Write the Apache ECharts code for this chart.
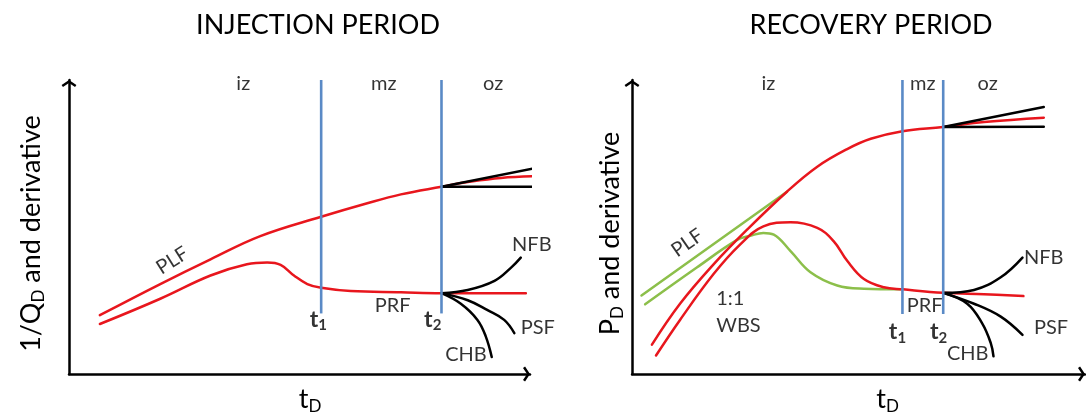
<!DOCTYPE html>
<html>
<head>
<meta charset="utf-8">
<script src="https://cdn.jsdelivr.net/npm/echarts@6/dist/echarts.min.js"></script>
<style>
  html, body { margin: 0; padding: 0; background: #fff; }
  #chart { width: 1086px; height: 420px; }
</style>
</head>
<body>
<div id="chart"></div>
<script>
// Schematic type curves: dimensionless time t_D on x (0-100), dimensionless response on y (0-100).

// ---- Injection period ----
const injPressure = [[6.7,20.0],[19.8,30.6],[30.7,39.0],[41.5,46.9],[54.7,53.5],[64.7,58.1],[72.0,61.1],[80.8,63.7],[86.5,65.3],[93.7,66.7],[102.4,67.3]];
const injDerivative = [[6.7,17.0],[19.8,25.6],[30.7,33.5],[38.6,37.3],[43.0,37.9],[45.9,37.1],[48.8,33.5],[51.7,30.6],[54.7,29.3],[61.1,28.2],[72.0,27.8],[80.8,27.5],[99.1,27.5]];
const injPressureRise = [[80.8,63.7],[102.4,70.4]];
const injPressureFlat = [[80.8,63.7],[102.4,63.7]];
const injNFB = [[80.8,27.5],[86.5,28.6],[92.3,31.7],[95.9,36.2],[98.0,39.6]];
const injPSF = [[80.8,27.5],[86.5,25.1],[90.8,21.7],[94.4,18.4],[96.6,13.9]];
const injCHB = [[80.8,27.5],[85.0,23.9],[88.6,18.4],[90.4,12.8],[91.7,5.8]];
const injZoneTimes = [54.7, 80.8];          // t1, t2
const injZoneSpan = [20.6, 100];

// ---- Recovery period ----
const recPressure = [[4.4,10.0],[10.6,23.9],[18.0,37.3],[25.4,49.1],[34.2,62.0],[40.9,70.5],[47.5,76.5],[52.7,80.0],[59.7,82.6],[68.7,84.0],[77.7,85.7],[90.9,87.2]];
const recDerivative = [[5.3,6.3],[10.6,18.4],[18.0,34.0],[23.9,44.1],[29.0,50.2],[35.0,51.6],[40.9,49.7],[44.5,45.2],[47.5,38.5],[51.2,32.3],[55.6,29.5],[59.8,28.8],[68.7,27.6],[77.7,27.1],[86.4,26.5]];
const recLinearFlow = [[2.1,26.7],[34.2,62.0]];
const recLinearDerivative = [[2.9,23.7],[14.3,36.2],[23.2,45.6],[26.1,47.0],[29.0,48.0],[31.3,47.4],[35.0,41.8],[39.4,34.6],[45.3,30.1],[51.2,29.0],[59.3,28.8]];
const recPressureRise = [[68.7,84.0],[90.9,90.8]];
const recPressureFlat = [[68.7,84.0],[90.9,84.1]];
const recNFB = [[68.7,27.6],[75.5,28.6],[81.4,32.9],[86.2,39.6]];
const recPSF = [[68.7,27.6],[75.5,23.9],[81.4,19.5],[86.2,13.3]];
const recCHB = [[68.7,27.6],[74.0,23.9],[77.3,17.2],[79.2,10.5],[79.8,6.0]];
const recZoneTimes = [59.7, 68.7];          // t1, t2
const recZoneSpan = [20.4, 100];

const RED = '#e8161d', BLACK = '#000000', BLUE = '#5a8ac6', GREEN = '#8cbf4a';
const FONT = 'Lato';

// open chevron used as the axis arrow head (points up before the axis rotates it)
const CHEVRON = 'path://M0,0 L12,8 L9.78,11.33 L0,4.8 L-9.78,11.33 L-12,8 Z';

function curve(panel, data, color, smooth) {
  return {
    type: 'line', xAxisIndex: panel, yAxisIndex: panel, data: data,
    showSymbol: false, symbol: 'none', smooth: smooth,
    clip: false, silent: true,
    lineStyle: { color: color, width: 2.5, cap: 'round' }, z: 3
  };
}
function zoneLine(panel, t, span) {
  const s = curve(panel, [[t, span[0]], [t, span[1]]], BLUE, false);
  s.z = 5; s.lineStyle.cap = 'butt'; s.lineStyle.width = 2.6;
  return s;
}

const rich = {
  n: { fontFamily: FONT, fontSize: 20, color: '#000' },
  b: { fontFamily: FONT, fontSize: 23, fontWeight: 'bold', color: '#000' },
  bs: { fontFamily: FONT, fontSize: 15, fontWeight: 'bold', color: '#000', padding: [12, 0, 0, 0] }
};
function notes(panel, items) {
  return {
    type: 'scatter', xAxisIndex: panel, yAxisIndex: panel, symbolSize: 0, clip: false, silent: true, z: 6,
    data: items.map(function (it) {
      return { value: [it[0], it[1]], label: { formatter: it[2], rotate: it[3] || 0 } };
    }),
    label: { show: true, position: 'inside', align: 'center', verticalAlign: 'middle', rich: rich }
  };
}

const axisName = {
  m: { fontFamily: FONT, fontSize: 27, color: '#000' },
  s: { fontFamily: FONT, fontSize: 17, color: '#000', padding: [14, 0, 0, 0] }
};
function xAxis(idx, pad) {
  return {
    type: 'value', gridIndex: idx, min: 0, max: 100,
    name: '{m|t}{s|D}', nameLocation: 'middle', nameGap: 10,
    nameTextStyle: { rich: axisName, padding: [0, 0, 0, pad] },
    axisLine: { lineStyle: { color: BLACK, width: 2.5 }, symbol: ['none', CHEVRON], symbolSize: [15, 7], symbolOffset: [0, -3.5] },
    axisTick: { show: false }, axisLabel: { show: false }, splitLine: { show: false }
  };
}
function yAxis(idx, name, gap) {
  return {
    type: 'value', gridIndex: idx, min: 0, max: 100,
    name: name, nameLocation: 'middle', nameGap: gap, nameRotate: 90,
    nameTextStyle: { rich: axisName, padding: [0, 13, 0, 0] },
    axisLine: { lineStyle: { color: BLACK, width: 2.5 }, symbol: ['none', CHEVRON], symbolSize: [15, 7], symbolOffset: [0, -3.5] },
    axisTick: { show: false }, axisLabel: { show: false }, splitLine: { show: false }
  };
}

const titleStyle = { fontFamily: FONT, fontSize: 27, fontWeight: 'normal', color: '#000' };

const option = {
  animation: false,
  backgroundColor: '#ffffff',
  title: [
    { text: 'INJECTION PERIOD', left: 313, top: 7, textAlign: 'center', textStyle: titleStyle },
    { text: 'RECOVERY PERIOD', left: 866, top: 7, textAlign: 'center', textStyle: titleStyle }
  ],
  grid: [
    { left: 69, top: 80, width: 461, height: 298 },
    { left: 632, top: 80, width: 453, height: 298 }
  ],
  xAxis: [xAxis(0, 21), xAxis(1, 58)],
  yAxis: [
    yAxis(0, '{m|1/Q}{s|D}{m| and derivative}', 22),
    yAxis(1, '{m|P}{s|D}{m| and derivative}', 6)
  ],
  series: [
    // injection period
    curve(0, injPressure, RED, 0.4),
    curve(0, injDerivative, RED, 0.4),
    curve(0, injPressureRise, BLACK, false),
    curve(0, injPressureFlat, BLACK, false),
    curve(0, injNFB, BLACK, 0.4),
    curve(0, injPSF, BLACK, 0.4),
    curve(0, injCHB, BLACK, 0.4),
    zoneLine(0, injZoneTimes[0], injZoneSpan),
    zoneLine(0, injZoneTimes[1], injZoneSpan),
    notes(0, [
      [37.8, 98.7, '{n|iz}'], [68.3, 98.7, '{n|mz}'], [92.0, 98.7, '{n|oz}'],
      [22.4, 38.6, '{n|PLF}', 32], [70.2, 23.2, '{n|PRF}'],
      [54.1, 18.5, '{b|t}{bs|1}'], [78.9, 18.5, '{b|t}{bs|2}'],
      [100.4, 44.0, '{n|NFB}'], [101.7, 15.8, '{n|PSF}'], [86.1, 6.7, '{n|CHB}']
    ]),
    // recovery period
    curve(1, recLinearFlow, GREEN, false),
    curve(1, recLinearDerivative, GREEN, 0.4),
    curve(1, recPressure, RED, 0.4),
    curve(1, recDerivative, RED, 0.4),
    curve(1, recPressureRise, BLACK, false),
    curve(1, recPressureFlat, BLACK, false),
    curve(1, recNFB, BLACK, 0.4),
    curve(1, recPSF, BLACK, 0.4),
    curve(1, recCHB, BLACK, 0.4),
    zoneLine(1, recZoneTimes[0], recZoneSpan),
    zoneLine(1, recZoneTimes[1], recZoneSpan),
    notes(1, [
      [30.1, 98.7, '{n|iz}'], [64.2, 98.7, '{n|mz}'], [78.5, 98.7, '{n|oz}'],
      [12.2, 44.6, '{n|PLF}', 35], [21.7, 25.8, '{n|1:1}'], [23.5, 16.4, '{n|WBS}'],
      [64.6, 23.2, '{n|PRF}'],
      [58.6, 14.4, '{b|t}{bs|1}'], [67.7, 14.4, '{b|t}{bs|2}'],
      [90.9, 39.6, '{n|NFB}'], [92.5, 15.8, '{n|PSF}'], [74.1, 7.0, '{n|CHB}']
    ])
  ]
};

const chart = echarts.init(document.getElementById('chart'), null, { renderer: 'canvas' });
chart.setOption(option);
</script>
</body>
</html>
